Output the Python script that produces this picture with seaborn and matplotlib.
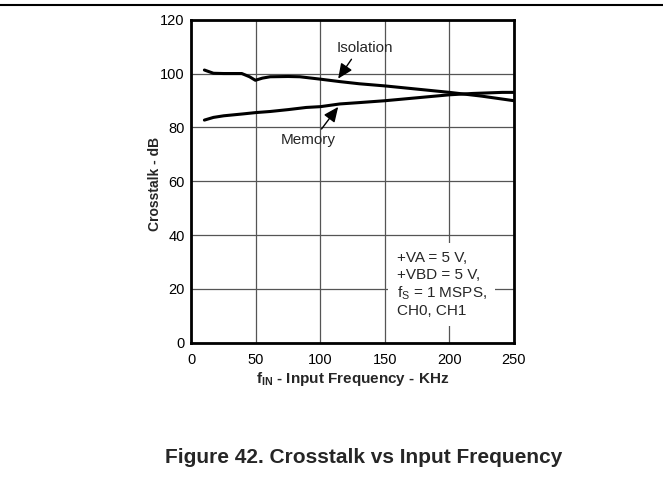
import matplotlib
matplotlib.use("Agg")
import matplotlib.pyplot as plt
import seaborn as sns
import pandas as pd

iso_x = [10, 17, 25, 39, 45, 49.5, 55, 61, 75, 84, 100, 115, 130, 150, 175, 200, 225, 250]
iso_y = [101.3, 100.1, 100.0, 100.0, 98.8, 97.5, 98.3, 98.8, 98.9, 98.8, 97.9, 97.0, 96.2, 95.4, 94.2, 93.0, 91.6, 89.9]
mem_x = [10, 17, 25, 40, 50, 61, 75, 89, 100, 115, 130, 150, 175, 200, 218, 241, 250]
mem_y = [82.7, 83.7, 84.3, 85.0, 85.5, 85.9, 86.6, 87.4, 87.7, 88.7, 89.2, 89.9, 91.0, 92.1, 92.6, 93.0, 93.0]

x_ticks = [0, 50, 100, 150, 200, 250]
y_ticks = [0, 20, 40, 60, 80, 100, 120]

sns.set_theme(style="white")
plt.rcParams['font.family'] = ['Liberation Sans', 'DejaVu Sans']
plt.rcParams['mathtext.fontset'] = 'custom'
plt.rcParams['mathtext.rm'] = 'Liberation Sans'
plt.rcParams['mathtext.bf'] = 'Liberation Sans:bold'
plt.rcParams['mathtext.it'] = 'Liberation Sans'

fig = plt.figure(figsize=(6.63, 4.91), dpi=100)
ax = fig.add_axes([191.5/663, 1 - 342.7/491, 322.5/663, 323/491])

df_iso = pd.DataFrame({"f": iso_x, "dB": iso_y})
df_mem = pd.DataFrame({"f": mem_x, "dB": mem_y})
sns.lineplot(data=df_iso, x="f", y="dB", ax=ax, color="black", linewidth=2.2, zorder=3)
sns.lineplot(data=df_mem, x="f", y="dB", ax=ax, color="black", linewidth=2.2, zorder=3)

ax.set_xlim(0, 250)
ax.set_ylim(0, 120)
ax.set_xticks(x_ticks)
ax.set_yticks(y_ticks)
ax.tick_params(axis='both', labelsize=10.5, length=0, colors='black')
ax.tick_params(axis='x', pad=7.5)
ax.tick_params(axis='y', pad=5)
ax.grid(True, color='#555555', linewidth=0.9)
for s in ax.spines.values():
    s.set_color('black')
    s.set_linewidth(2.0)

ax.set_xlabel(r"$\mathbf{f_{IN}}$ - Input Frequency - KHz", fontsize=11, fontweight='bold', labelpad=2)
ax.set_ylabel("Crosstalk - dB", fontsize=10, fontweight='bold')
ax.yaxis.set_label_coords(-0.092, 0.49)

arrow = dict(arrowstyle='-|>,head_length=0.9,head_width=0.4', color='black', lw=1.0,
             mutation_scale=10, shrinkA=0, shrinkB=0)
ax.text(134.6, 109.6, "Isolation", fontsize=11, ha='center', va='center', zorder=5)
ax.annotate("", xy=(113.7, 98.1), xytext=(124.0, 105.3), arrowprops=arrow, zorder=5)
ax.text(90.3, 75.3, "Memory", fontsize=11, ha='center', va='center', zorder=5)
ax.annotate("", xy=(113.7, 87.6), xytext=(100.8, 79.4), arrowprops=arrow, zorder=5)

ax.text(159, 21.6, "+VA = 5 V,\n+VBD = 5 V,\nf$_\\mathregular{S}$ = 1 MSPS,\nCH0, CH1",
        fontsize=11, ha='left', va='center', linespacing=1.2, zorder=5,
        bbox=dict(facecolor='white', edgecolor='none', pad=6))

fig.add_artist(plt.Line2D([0, 1], [1 - 5/491, 1 - 5/491], color='black', lw=1.5,
                          transform=fig.transFigure))
fig.text(364/663, 1 - 463/491, "Figure 42. Crosstalk vs Input Frequency", fontsize=15,
         fontweight='bold', ha='center', va='baseline')

fig.savefig("out.png", dpi=100)
